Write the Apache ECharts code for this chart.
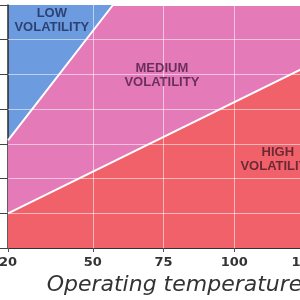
<!DOCTYPE html>
<html><head><meta charset="utf-8">
<script src="https://cdn.jsdelivr.net/npm/echarts@6/dist/echarts.min.js"></script>
<style>html,body{margin:0;padding:0;background:#fff}#c{width:300px;height:300px}</style>
</head><body><div id="c"></div>
<script>
// Data
const xTicks = [20, 50, 75, 100, 125];
const xGrid = [50, 75, 100];
const yGrid = [1, 2, 3, 4, 5, 6];
const lowMedBoundary = [[20, 3.1], [57.1, 7], [125, 7]];
const medHighBoundary = [[20, 1.0], [125, 5.2]];
const regionNames = ['LOW\nVOLATILITY', 'MEDIUM\nVOLATILITY', 'HIGH\nVOLATILITY'];
const regionPos = [[35.5, 6.57], [74.4, 4.96], [115.4, 2.54]];
const regionColors = ['#1d2b58', '#4a1d45', '#4a1a2a'];
const xTitle = 'Operating temperature';

const chart = echarts.init(document.getElementById('c'), null, {renderer: 'canvas'});
chart.setOption({
  animation: false,
  grid: {left: 8, top: 5, right: -5, bottom: 52, show: true, backgroundColor: '#6c9be0', borderWidth: 0,
    containLabel: false, outerBoundsMode: 'none'},
  xAxis: {
    type: 'value', min: 20, max: 125,
    name: xTitle, nameLocation: 'middle', nameGap: 14,
    nameTextStyle: {fontFamily: 'DejaVu Sans', fontStyle: 'italic', fontSize: 22, color: '#333', padding: [0, 0, 0, 36]},
    axisLine: {show: true, lineStyle: {color: '#333', width: 1}},
    axisTick: {show: true, customValues: xTicks, length: 4, lineStyle: {color: '#555'}},
    axisLabel: {customValues: xTicks, fontFamily: 'DejaVu Sans', fontWeight: 'bold', fontSize: 13, color: '#333', margin: 8},
    splitLine: {show: false}
  },
  yAxis: {
    type: 'value', min: 0, max: 7, interval: 1,
    axisLine: {show: true, lineStyle: {color: '#2a2a2a', width: 1.5}},
    axisTick: {show: true, inside: false, length: 8, lineStyle: {color: '#444'}},
    axisLabel: {show: false},
    splitLine: {show: false}
  },
  series: [
    {
      type: 'line', data: lowMedBoundary, symbol: 'none', z: 2,
      lineStyle: {color: '#fff', width: 2},
      areaStyle: {color: '#e57ab8', opacity: 1}
    },
    {
      type: 'line', data: medHighBoundary, symbol: 'none', z: 3,
      lineStyle: {color: '#fff', width: 2},
      areaStyle: {color: '#f0616a', opacity: 1}
    },
    {
      type: 'line', data: [], z: 4, symbol: 'none',
      markLine: {
        silent: true, symbol: 'none', label: {show: false},
        lineStyle: {color: 'rgba(255,255,255,0.55)', width: 1, type: 'solid'},
        data: xGrid.map(v => ({xAxis: v})).concat(yGrid.map(v => ({yAxis: v})))
      }
    },
    {
      type: 'scatter', z: 5, symbolSize: 0,
      data: regionPos.map((p, i) => ({value: p, name: regionNames[i],
        label: {color: regionColors[i]}})),
      label: {show: true, position: 'inside', formatter: p => p.name,
        fontFamily: 'Liberation Sans', fontWeight: 'bold', fontSize: 13, lineHeight: 14, align: 'center'}
    }
  ]
});
</script></body></html>
